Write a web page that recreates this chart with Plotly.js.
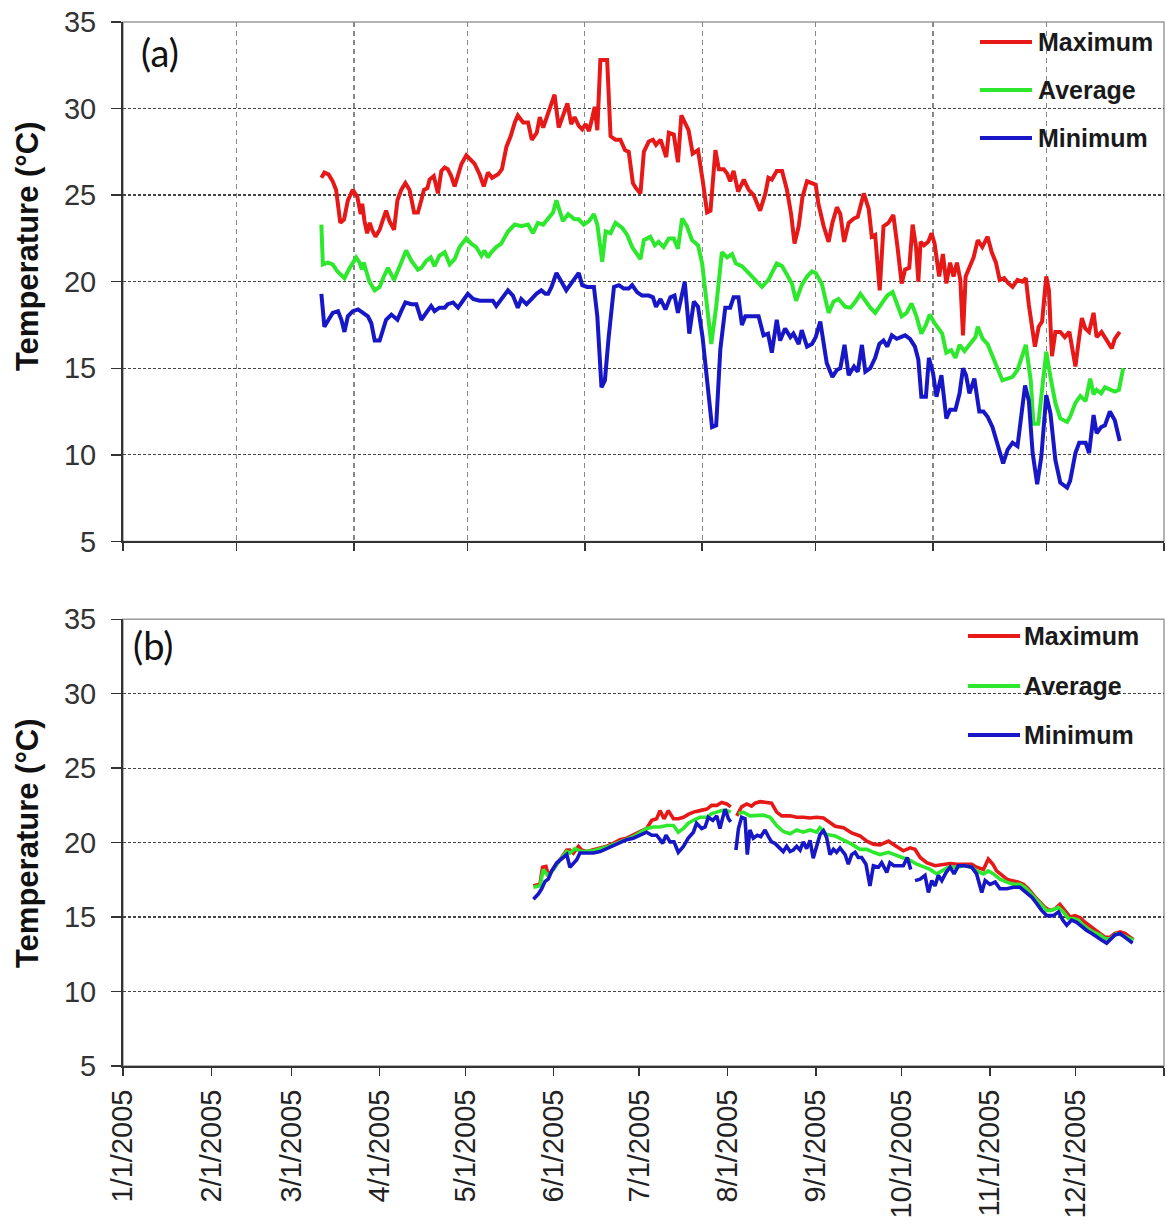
<!DOCTYPE html>
<html>
<head>
<meta charset="utf-8">
<script src="https://cdn.plot.ly/plotly-3.0.1.min.js"></script>
<style>html,body{margin:0;padding:0;background:#fff;}#chart{width:1167px;height:1226px;}</style>
</head>
<body>
<div id="chart"></div>
<script>
// ---- Panel (a): day-of-year 2005 and temperatures (°C) ----
const maxA_day = [143.4,144.2,145.3,146.4,147.3,148.4,149.4,150.4,151.7,152.9,153.8,154.2,154.8,155.5,156.2,156.8,157.7,158.8,159.7,160.5,161.4,162.6,163.5,164.5,165.6,166.7,167.9,168.9,169.8,170.5,171.4,172.0,173.1,174.2,175.1,176.0,176.8,177.7,178.6,179.5,180.4,181.7,182.7,183.9,185.2,186.3,187.4,188.5,190.1,191.1,192.3,193.4,194.5,195.3,196.7,198.0,199.0,200.3,201.1,202.0,203.1,204.2,205.0,206.1,207.2,208.4,209.4,210.3,
211.4,212.3,213.2,214.1,215.0,215.6,216.3,217.1,218.9,219.8,221.1,222.4,223.6,224.6,225.7,226.5,227.7,228.6,229.9,231.0,231.8,233.0,234.5,235.2,236.5,237.6,238.5,239.6,240.4,241.5,242.9,244.1,245.3,246.2,247.5,248.4,249.7,250.6,251.4,252.3,253.5,255.0,256.3,257.6,259.3,260.7,261.5,262.4,263.7,265.1,266.4,267.5,268.4,269.5,270.5,271.7,273.0,274.0,274.7,276.1,277.4,278.4,279.6,280.5,281.5,282.7,
284.1,285.1,286.7,288.0,288.8,289.7,290.9,291.9,293.2,294.5,295.6,296.7,297.6,298.7,299.6,300.5,301.1,301.7,302.6,303.7,304.6,305.4,306.6,307.6,308.5,309.5,310.4,311.3,312.2,312.9,313.6,314.6,315.7,316.8,318.0,319.4,320.5,321.6,322.6,323.8,324.9,326.0,327.3,328.6,329.5,330.3,331.0,331.9,332.9,333.8,334.9,335.6,336.4,337.3,338.6,339.8,341.0,341.7,342.6,343.6,344.3,345.2,346.2,347.4,348.2,349.5,350.9,352.2,353.0,354.3];
const maxA_val = [26.0,26.3,26.2,25.8,25.3,23.4,23.6,24.7,25.3,24.9,23.9,24.5,23.5,22.8,23.4,23.0,22.6,23.0,23.6,24.1,23.5,23.0,24.7,25.3,25.7,25.3,24.0,24.0,24.7,25.3,25.4,25.9,26.1,25.1,26.4,26.6,26.5,26.1,25.5,26.1,26.8,27.3,27.1,26.8,26.2,25.5,26.3,26.0,26.2,26.5,27.8,28.4,29.2,29.6,29.2,29.2,28.2,28.6,29.5,28.9,29.6,30.3,30.8,28.9,29.5,30.3,29.1,29.5,
29.0,28.8,29.1,28.7,29.5,30.1,28.75,32.8,32.8,28.4,28.2,28.2,27.6,27.5,25.7,25.4,25.1,27.5,28.1,28.2,27.9,28.2,27.2,28.6,28.5,26.9,29.6,29.1,28.75,27.4,27.6,25.9,24.0,24.1,27.6,26.5,26.5,26.25,25.8,26.4,25.2,25.9,25.3,25.0,24.1,25.1,26.0,25.9,26.4,26.4,25.3,23.9,22.2,23.2,24.9,25.8,25.7,25.6,24.5,23.2,22.3,23.4,24.3,23.9,22.3,23.4,
23.65,23.75,25.1,24.2,22.6,22.7,19.5,23.2,23.4,23.85,22.0,19.9,20.7,20.8,23.3,22.0,20.0,22.3,22.1,22.3,22.8,22.2,20.3,21.6,19.9,21.1,20.3,21.1,20.1,16.9,20.3,20.8,21.4,22.4,22.0,22.6,21.7,21.1,20.1,20.2,19.9,19.7,20.1,20.0,20.2,18.65,17.4,16.25,17.4,17.7,20.3,19.5,15.7,17.1,17.1,16.8,17.1,16.15,15.1,16.8,17.9,17.3,17.1,18.2,16.8,17.1,16.6,16.15,16.7,17.1];

const avgA_day = [143.4,143.8,145.1,146.4,147.6,148.7,149.5,150.9,152.6,153.5,154.1,154.6,155.3,156.1,157.5,158.8,159.9,161.0,162.6,164.5,165.8,167.2,168.9,169.8,171.1,172.3,173.3,174.6,176.0,177.3,178.6,179.9,181.7,183.0,184.3,185.7,186.5,187.4,188.3,189.6,190.9,192.7,194.5,196.2,198.0,199.3,200.6,202.0,203.1,204.6,205.5,207.2,208.6,210.3,
211.4,212.7,214.1,215.4,216.3,217.6,218.5,219.8,221.1,222.9,224.2,225.5,227.7,228.6,230.3,231.5,232.5,233.8,235.2,236.5,237.6,238.7,240.0,241.3,242.9,244.0,245.3,246.4,247.7,249.2,250.6,251.9,252.9,254.5,256.3,258.0,259.8,261.5,262.4,263.7,265.1,266.4,267.7,268.8,270.3,271.7,273.0,274.0,275.6,277.4,278.7,280.0,281.8,
283.2,284.5,285.8,287.1,288.4,289.7,290.8,291.9,292.9,294.3,295.4,296.7,298.0,299.3,300.6,301.9,303.1,304.1,305.4,306.6,307.4,308.5,309.8,310.9,312.0,313.3,314.6,316.2,316.8,318.1,319.4,320.7,322.0,323.3,324.7,326.0,327.3,328.6,329.5,330.8,331.5,332.8,333.8,334.9,336.0,337.3,338.6,340.4,341.2,342.6,343.9,345.3,346.5,347.4,348.2,349.4,350.4,351.7,353.0,354.1,355.2];
const avgA_val = [23.3,21.0,21.1,21.0,20.6,20.4,20.2,20.8,21.4,21.1,20.7,21.1,20.6,20.0,19.5,19.7,20.3,20.8,20.1,21.2,21.8,21.2,20.7,20.8,21.2,21.4,20.9,21.5,21.7,21.0,21.3,22.0,22.5,22.2,22.0,21.5,21.8,21.4,21.7,22.0,22.2,22.9,23.3,23.2,23.3,22.8,23.4,23.3,23.6,24.0,24.7,23.5,23.9,23.6,
23.6,23.3,23.5,23.9,23.3,21.15,22.9,22.8,23.4,23.1,22.7,22.0,21.3,22.4,22.6,22.1,22.3,22.0,22.5,22.5,21.9,23.65,23.2,22.4,22.1,21.05,18.55,16.4,18.55,21.7,21.4,21.6,21.05,20.9,20.5,20.1,19.7,20.1,20.5,21.05,20.9,20.4,19.9,18.9,19.8,20.3,20.6,20.5,19.9,18.2,18.85,19.0,18.55,
18.5,18.85,19.3,18.85,18.5,18.2,18.55,18.85,19.2,19.4,18.75,18.0,18.2,18.75,18.0,17.0,17.5,18.1,17.6,17.2,17.0,15.9,16.05,15.6,16.35,16.0,16.4,16.8,17.4,16.7,16.4,15.7,14.9,14.3,14.4,14.5,14.9,15.7,16.35,14.3,11.8,11.8,13.75,15.95,14.5,13.0,12.1,11.9,12.2,13.0,13.4,13.1,14.4,13.5,13.75,13.55,13.9,13.75,13.65,13.75,15.0];

const minA_day = [143.4,144.2,145.3,146.4,147.8,148.7,149.5,150.4,151.7,153.1,154.4,155.7,156.6,157.5,158.8,159.7,160.5,161.9,163.5,164.5,165.6,167.2,168.5,169.8,171.1,172.4,173.3,174.6,176.0,176.8,178.2,179.5,180.8,182.1,183.5,185.2,186.9,188.7,189.6,190.9,192.7,194.0,195.3,196.2,197.6,198.9,200.2,201.5,202.6,203.3,204.2,205.5,206.8,208.1,209.4,
211.4,212.3,213.6,215.4,216.3,217.4,218.3,219.3,220.7,222.0,223.3,224.6,225.5,226.8,228.1,229.9,231.0,231.8,233.0,234.3,235.6,236.7,237.6,239.4,240.6,241.8,242.9,244.1,245.3,246.6,247.7,248.8,250.1,251.4,252.3,253.6,254.5,255.4,257.2,258.9,260.2,261.4,262.4,263.7,264.6,265.9,267.3,268.1,269.5,270.3,271.7,273.0,274.0,275.2,276.9,278.4,279.6,280.5,281.6,282.7,
284.1,285.1,286.2,287.1,288.4,289.7,290.8,291.9,292.9,294.1,295.4,296.7,297.6,298.9,300.2,301.1,301.9,303.1,303.9,305.0,305.9,307.2,308.5,309.5,310.9,312.0,312.9,313.7,314.6,315.9,317.2,318.3,319.4,320.7,322.0,323.5,324.7,326.0,327.3,328.1,329.3,330.3,331.3,332.5,333.6,334.9,336.0,337.3,338.6,340.4,341.2,342.6,343.6,345.3,346.2,347.4,348.2,349.4,350.4,351.7,353.0,354.3];
const minA_val = [19.3,17.4,17.8,18.2,18.3,17.8,17.1,18.0,18.3,18.4,18.2,18.0,17.6,16.6,16.6,17.2,17.8,18.1,17.8,18.3,18.8,18.7,18.7,17.8,18.2,18.6,18.3,18.5,18.5,18.7,18.8,18.5,18.9,19.3,19.0,18.9,18.9,18.9,18.6,19.0,19.5,19.2,18.5,19.0,18.7,19.0,19.3,19.5,19.3,19.3,19.7,20.5,20.0,19.5,19.9,
20.5,19.8,19.7,19.7,18.0,13.9,14.3,16.8,19.7,19.8,19.6,19.6,19.8,19.4,19.2,19.2,19.1,18.55,19.0,18.4,19.1,19.2,18.2,20.0,17.0,18.85,18.55,16.8,14.1,11.6,11.7,16.1,18.5,18.5,19.1,19.1,17.5,18.0,18.0,18.0,16.9,17.0,15.9,17.8,16.6,17.3,16.8,17.0,16.4,17.2,16.25,16.4,16.8,17.7,15.3,14.5,14.9,15.0,16.35,14.6,
15.1,14.8,16.35,14.8,15.0,15.6,16.4,16.6,16.25,16.9,16.7,16.8,16.9,16.7,16.25,15.5,13.35,13.35,15.6,14.7,13.35,14.6,12.1,12.6,12.6,13.55,15.0,14.6,13.55,14.4,12.5,12.5,12.2,11.6,10.7,9.5,10.3,10.7,10.5,12.0,14.0,13.1,10.1,8.3,9.9,13.45,12.4,9.7,8.4,8.1,8.5,10.1,10.7,10.7,10.1,12.3,11.25,11.6,11.7,12.5,12.0,10.8];

// ---- Panel (b): day-of-year 2005 and temperatures (°C); null = no record ----
const maxB_day = [144.9,147.2,148.1,149.3,150.1,151.9,154.2,156.6,157.7,158.9,160.7,161.8,163.6,165.9,168.3,170.6,172.9,175.3,177.6,179.9,182.3,184.6,186.4,188.1,189.3,190.7,192.2,194.0,195.7,197.5,199.2,201.0,203.3,205.7,207.4,209.2,210.9,212.7,214.1,215,216.2,217.9,219.7,221.4,222.6,224.4,226.7,228.4,230.2,232.0,234.9,237.2,239.5,241.9,244.2,246.6,
250.7,253.6,256.5,259.4,261.8,264.1,266.4,269.4,271.7,274.6,277.0,278.7,280.5,282.8,285.7,288.6,291.0,293.3,296.2,298.6,300.3,302.7,304.4,306.0,307.3,309.1,310.9,312.6,315.0,316.7,318.4,320.8,322.5,324.3,326.0,327.8,329.5,331.3,333.1,334.8,336.6,338.3,340.1,341.8,343.6,345.3,347.1,348.8,350.6,352.3,354.1,355.3];
const maxB_val = [17.1,17.2,18.35,18.4,17.85,18.2,18.85,19.5,19.5,19.3,19.75,19.5,19.4,19.5,19.6,19.75,19.95,20.2,20.3,20.5,20.7,20.95,21.5,21.6,22.15,21.6,22.15,21.6,21.6,21.7,21.9,22.05,22.15,22.25,22.5,22.5,22.7,22.6,22.4,null,21.8,22.4,22.6,22.45,22.65,22.75,22.7,22.65,22.05,21.8,21.8,21.7,21.7,21.65,21.7,21.65,
21.1,21.0,20.65,20.45,20.1,19.9,19.85,20.1,19.8,19.45,19.65,19.55,19.0,18.65,18.45,18.55,18.6,18.55,18.55,18.55,18.35,18.2,18.9,18.55,18.1,17.8,17.55,17.45,17.35,17.2,16.9,16.35,16.0,15.65,15.45,15.55,15.85,15.45,15.0,15.1,14.95,14.65,14.4,14.1,13.9,13.65,13.65,13.9,14.0,13.9,13.65,13.5];

const avgB_day = [144.9,147.2,148.4,150.1,151.9,154.2,156.6,157.7,159.5,161.8,165.9,170.6,175.3,179.9,184.6,187.0,189.3,191.6,194.0,195.7,197.5,199.2,201.0,203.3,205.7,207.4,209.2,210.9,212.7,214.1,215,216.8,218.5,220.8,223.2,225.5,227.9,230.2,232.5,234.9,237.2,239.5,241.9,244.2,
245.4,247.7,250.7,253.6,256.5,259.4,261.8,264.1,266.4,269.4,271.7,274.6,277.0,279.3,281.6,284.0,286.3,288.1,290.4,293.3,296.2,298.6,300.3,302.7,304.4,306.2,308.5,310.9,313.2,315.5,317.3,319.0,321.4,323.1,324.9,326.6,329.0,330.7,332.5,334.2,336.0,337.7,339.5,341.2,343.6,345.3,347.1,349.4,351.2,352.9,355.3];
const avgB_val = [17.0,17.1,18.2,17.75,18.2,18.85,19.4,19.3,19.6,19.4,19.45,19.7,20.05,20.4,20.95,21.05,21.05,21.15,21.15,20.7,20.95,21.3,21.5,21.7,21.7,21.95,22.05,22.15,22.15,22.05,null,21.95,22.05,21.8,21.85,21.85,21.7,21.15,20.75,20.6,20.85,20.7,20.85,20.7,
21.0,20.55,20.45,20.2,19.9,19.55,19.55,19.35,19.2,19.35,19.2,19.0,18.8,18.55,18.35,18.2,17.9,18.1,18.35,18.35,18.45,18.35,18.1,17.9,18.1,17.9,17.55,17.35,17.2,17.2,17.0,16.65,16.1,15.8,15.45,15.45,15.65,15.35,14.9,14.9,14.8,14.45,14.2,14.0,13.8,13.55,13.55,13.9,13.8,13.65,13.45];

const minB_day = [144.9,146.6,147.8,149.0,150.1,151.3,153.1,154.8,156.6,157.7,160.1,161.2,163.6,165.9,168.3,170.6,172.9,175.3,177.6,179.9,182.3,184.6,186.4,188.1,189.3,190.2,191.4,192.8,194.2,195.7,197.5,199.2,201.0,202.1,203.9,205.1,206.2,207.8,209.2,210.3,211.3,212.1,213.3,214.1,215,215.9,216.8,217.9,219.1,219.9,220.8,222.0,223.4,224.6,226.1,227.3,228.4,229.6,231.4,232.5,233.7,234.9,236.0,237.2,238.4,239.5,240.7,241.9,243.0,244.2,
245.4,246.6,247.7,248.9,250.1,251.2,252.4,254.2,255.3,256.5,257.7,258.8,260.0,261.5,262.9,264.1,265.9,267.0,268.8,269.9,271.3,272.9,274.6,276.0,277.2,278,278.7,280.5,282.2,283.4,284.6,285.7,286.9,288.1,289.6,291.0,292.4,293.9,296.2,298.6,300.3,302.1,303.3,305.0,306.8,308.5,310.9,313.2,315.5,317.6,319.6,321.4,323.1,324.9,327.2,329.0,330.5,331.9,333.6,335.4,337.2,338.9,340.7,342.4,344.2,345.9,347.1,348.8,350.6,352.3,353.9,355.0];
const minB_val = [16.2,16.55,16.9,17.4,17.55,18.1,18.65,18.95,19.2,18.35,18.85,19.3,19.3,19.3,19.4,19.6,19.85,20.05,20.2,20.3,20.5,20.7,20.5,20.5,20.2,19.95,20.5,20.05,20.05,19.35,19.75,20.3,20.7,21.3,20.95,21.05,21.7,21.5,21.8,20.95,21.7,22.25,21.6,21.4,null,19.5,20.95,21.7,21.6,19.2,20.85,20.3,20.5,20.4,20.85,20.4,20.05,19.95,19.6,19.4,19.75,19.4,19.5,19.75,19.5,20.05,19.6,20.15,18.95,19.75,
20.55,20.8,20.35,19.2,19.55,19.35,19.65,19.2,18.55,19.2,19.35,19.0,19.0,18.55,17.1,18.45,18.35,18.65,18.0,18.65,18.45,18.45,18.45,19.0,18.2,null,17.45,17.55,17.8,16.65,17.45,17.1,17.8,17.45,18.0,18.35,17.9,18.45,18.45,18.35,17.9,16.65,17.45,17.2,17.35,16.9,16.9,17.0,17.0,16.65,16.35,15.9,15.45,15.1,15.1,15.35,14.8,14.45,14.8,14.65,14.35,14.1,13.9,13.65,13.45,13.25,13.45,13.8,13.9,13.65,13.4,13.25];

const seriesNames = ['Maximum', 'Average', 'Minimum'];
const seriesColors = ['#e61818', '#2de82d', '#1717c8'];
const panelLabels = ['(a)', '(b)'];
const yTitle = 'Temperature (°C)';

function toDate(d) {
  const ms = Date.UTC(2005, 0, 1) + (d - 1) * 86400000;
  return new Date(ms).toISOString().replace('T', ' ').slice(0, 19);
}

const panelA = [[maxA_day, maxA_val], [avgA_day, avgA_val], [minA_day, minA_val]];
const panelB = [[maxB_day, maxB_val], [avgB_day, avgB_val], [minB_day, minB_val]];

const traces = [];
panelA.forEach((s, i) => traces.push({
  x: s[0].map(toDate), y: s[1], type: 'scatter', mode: 'lines', name: seriesNames[i],
  xaxis: 'x', yaxis: 'y', showlegend: false,
  line: {color: seriesColors[i], width: 4}
}));
panelB.forEach((s, i) => traces.push({
  x: s[0].map(toDate), y: s[1], type: 'scatter', mode: 'lines', name: seriesNames[i],
  xaxis: 'x2', yaxis: 'y2', showlegend: false, connectgaps: false,
  line: {color: seriesColors[i], width: 3.6}
}));

const tickFont = {family: 'Liberation Sans, Arial, sans-serif', size: 29, color: '#333'};
const titleFont = {family: 'Liberation Sans, Arial, sans-serif', size: 31, color: '#111', weight: 'bold'};

function yAxis(domain, anchor) {
  return {
    domain: domain, anchor: anchor, range: [5, 35], dtick: 5, tick0: 5,
    showgrid: true, gridcolor: '#444', griddash: '3px,2px', gridwidth: 1.3,
    zeroline: false, showline: true, linecolor: '#333', linewidth: 2,
    ticks: 'outside', ticklen: 10, tickcolor: '#333', tickwidth: 1.5,
    tickfont: tickFont, ticklabelstandoff: 9
  };
}

// legend built from shapes + text
const shapes = [];
const annotations = [];
function addLegend(x0, x1, ys, tx) {
  seriesNames.forEach((n, i) => {
    shapes.push({type: 'line', xref: 'paper', yref: 'paper', x0: x0, x1: x1, y0: ys[i], y1: ys[i],
      line: {color: seriesColors[i], width: 4}});
    annotations.push({xref: 'paper', yref: 'paper', x: tx, y: ys[i], xanchor: 'left', yanchor: 'middle',
      text: n, showarrow: false,
      font: {family: 'Liberation Sans, Arial, sans-serif', size: 25, color: '#1a1a1a', weight: 'bold'}});
  });
}
addLegend(0.8232, 0.8732, [0.9808, 0.9349, 0.8889], 0.8775);
addLegend(0.8117, 0.8617, [0.4119, 0.3640, 0.3171], 0.8640);

[['x domain', 'y domain'], ['x2 domain', 'y2 domain']].forEach(r => shapes.push({
  type: 'rect', xref: r[0], yref: r[1], x0: 0, x1: 1, y0: 0, y1: 1,
  line: {color: '#9a9a9a', width: 1.5}, layer: 'below'
}));

// y-axis titles
[0.7854, 0.2136].forEach(yy => annotations.push({
  xref: 'paper', yref: 'paper', x: -0.0922, y: yy, text: yTitle, textangle: -90, showarrow: false,
  xanchor: 'center', yanchor: 'middle', font: titleFont
}));

annotations.push({xref: 'paper', yref: 'paper', x: 0.0355, y: 0.9713, text: panelLabels[0], showarrow: false,
  xanchor: 'center', yanchor: 'middle', font: {family: 'Lato, Carlito, sans-serif', size: 38, color: '#111'}});
annotations.push({xref: 'paper', yref: 'paper', x: 0.0288, y: 0.4033, text: panelLabels[1], showarrow: false,
  xanchor: 'center', yanchor: 'middle', font: {family: 'Lato, Carlito, sans-serif', size: 38, color: '#111'}});

const layout = {
  width: 1167, height: 1226,
  margin: {l: 123, r: 3, t: 22, b: 160},
  paper_bgcolor: '#ffffff', plot_bgcolor: '#ffffff',
  showlegend: false,
  xaxis: {
    domain: [0, 1], anchor: 'y', type: 'date',
    range: ['2005-04-01', '2006-01-01'], tick0: '2005-04-01', dtick: 'M1',
    showgrid: true, gridcolor: '#888', griddash: '5px,4px', gridwidth: 1.2,
    showticklabels: false, ticks: 'outside', ticklen: 8, tickcolor: '#333', tickwidth: 1.5,
    showline: true, linecolor: '#333', linewidth: 2, zeroline: false
  },
  yaxis: yAxis([0.5025, 1], 'x'),
  xaxis2: {
    domain: [0, 1], anchor: 'y2', type: 'date',
    range: ['2005-01-01', '2006-01-01'], tick0: '2005-01-01', dtick: 'M1',
    tickformat: '%-m/%-d/%Y', tickangle: -90,
    showgrid: false, ticks: 'outside', ticklen: 8, tickcolor: '#333', tickwidth: 1.5,
    tickfont: {family: 'Liberation Sans, Arial, sans-serif', size: 29, color: '#222'}, ticklabelstandoff: 2,
    showline: true, linecolor: '#333', linewidth: 2, zeroline: false
  },
  yaxis2: yAxis([0, 0.4279], 'x2'),
  shapes: shapes,
  annotations: annotations
};

Plotly.newPlot('chart', traces, layout, {displayModeBar: false, staticPlot: true});
</script>
</body>
</html>
